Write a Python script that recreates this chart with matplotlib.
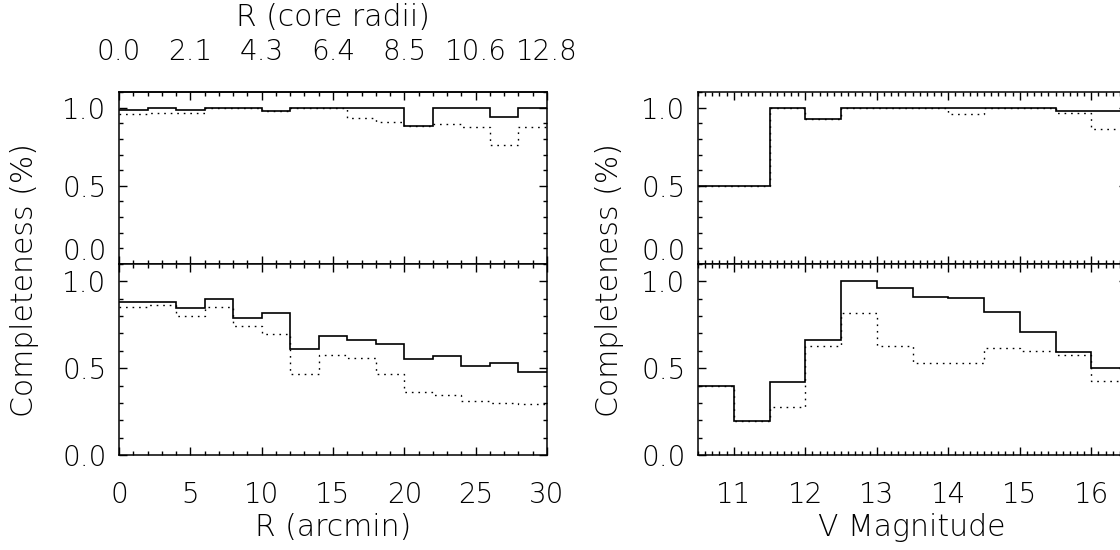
import matplotlib
matplotlib.use("Agg")
import matplotlib.pyplot as plt
from matplotlib.ticker import MultipleLocator
from matplotlib.transforms import ScaledTranslation

# ---- data -------------------------------------------------------------
# radial bins (arcmin)
r_edges = [0, 2, 4, 6, 8, 10, 12, 14, 16, 18, 20, 22, 24, 26, 28, 30]
# upper row: completeness vs radius
r_top_solid = [0.983, 1.0, 0.985, 1.0, 1.0, 0.977, 1.0, 1.0, 1.0, 1.0,
               0.884, 1.0, 1.0, 0.941, 1.0]
r_top_dotted = [0.958, 0.968, 0.968, 1.0, 1.0, 0.977, 1.0, 1.0, 0.936, 0.905,
                0.884, 0.898, 0.879, 0.761, 0.879]
# lower row: completeness vs radius
r_bot_solid = [0.884, 0.884, 0.846, 0.898, 0.788, 0.815, 0.611, 0.686, 0.665,
               0.642, 0.553, 0.568, 0.514, 0.532, 0.478]
r_bot_dotted = [0.855, 0.863, 0.798, 0.852, 0.742, 0.699, 0.464, 0.576, 0.557,
                0.466, 0.360, 0.347, 0.312, 0.299, 0.293]

# magnitude bins (V)
v_edges = [10.5, 11.0, 11.5, 12.0, 12.5, 13.0, 13.5, 14.0, 14.5, 15.0,
           15.5, 16.0, 16.5]
v_top_solid = [0.5, 0.5, 1.0, 0.93, 1.0, 1.0, 1.0, 1.0, 1.0, 0.995, 0.981, 0.981]
v_top_dotted = [0.5, 0.5, 1.0, 0.93, 1.0, 1.0, 1.0, 0.958, 1.0, 0.995, 0.968, 0.862]
v_bot_solid = [0.395, 0.195, 0.422, 0.661, 1.0, 0.963, 0.909, 0.902, 0.825,
               0.711, 0.591, 0.5]
v_bot_dotted = [0.395, 0.195, 0.279, 0.628, 0.815, 0.628, 0.530, 0.530, 0.614,
                0.599, 0.576, 0.429]

# axis ticks and labels
r_ticks = [0, 5, 10, 15, 20, 25, 30]
core_radii_labels = ["0.0", "2.1", "4.3", "6.4", "8.5", "10.6", "12.8"]
v_ticks = [11, 12, 13, 14, 15, 16]
y_ticks = [0.0, 0.5, 1.0]
y_tick_labels = ["0.0", "0.5", "1.0"]

# ---- style ------------------------------------------------------------
FAMILY = ["DejaVu Sans", "Roboto"]
WEIGHT = 200
FS = 20
FS_TITLE = 21.5
plt.rcParams["font.family"] = FAMILY
plt.rcParams["font.weight"] = WEIGHT

W, H = 1120, 550
fig = plt.figure(figsize=(W / 100, H / 100), dpi=100)
fig.patch.set_facecolor("white")


def px_axes(x0, y0, x1, y1):
    """Create axes from a pixel box measured from the top-left corner."""
    return fig.add_axes([x0 / W, 1 - y1 / H, (x1 - x0) / W, (y1 - y0) / H])


def light(labels):
    for lab in labels:
        lab.set_fontweight(WEIGHT)
        lab.set_fontfamily(FAMILY)


def style(ax, xmajor, xminor):
    ax.set_ylim(0, 1.1)
    ax.yaxis.set_minor_locator(MultipleLocator(0.1))
    ax.xaxis.set_major_locator(MultipleLocator(xmajor))
    ax.xaxis.set_minor_locator(MultipleLocator(xminor))
    ax.tick_params(which="both", direction="in", top=True, right=True,
                   color="black", width=1.0)
    ax.tick_params(which="major", length=5.5)
    ax.tick_params(which="minor", length=2.8)
    ax.tick_params(axis="y", pad=9, labelsize=FS)
    ax.tick_params(axis="x", pad=19, labelsize=FS)
    ax.set_yticks(y_ticks)
    ax.set_yticklabels(y_tick_labels)
    for s in ax.spines.values():
        s.set_linewidth(1.1)
        s.set_color("black")
    light(ax.get_yticklabels())


def draw(ax, edges, solid, dotted):
    ax.stairs(dotted, edges, baseline=None, color="black", lw=1.0,
              linestyle=(0, (1.2, 3.5)))
    ax.stairs(solid, edges, baseline=None, color="black", lw=1.2)


# pixel layout
LX0, LX1 = 119, 547
RX0, RX1 = 698, 1127
Y_TOP, Y_MID, Y_BOT = 92, 264, 455

ax_lt = px_axes(LX0, Y_TOP, LX1, Y_MID)
ax_lb = px_axes(LX0, Y_MID, LX1, Y_BOT)
ax_rt = px_axes(RX0, Y_TOP, RX1, Y_MID)
ax_rb = px_axes(RX0, Y_MID, RX1, Y_BOT)

for ax in (ax_lt, ax_lb):
    ax.set_xlim(0, 30)
    style(ax, 5, 1)
for ax in (ax_rt, ax_rb):
    ax.set_xlim(10.5, 16.5)
    style(ax, 1, 0.1)

draw(ax_lt, r_edges, r_top_solid, r_top_dotted)
draw(ax_lb, r_edges, r_bot_solid, r_bot_dotted)
draw(ax_rt, v_edges, v_top_solid, v_top_dotted)
draw(ax_rb, v_edges, v_bot_solid, v_bot_dotted)

ax_lt.tick_params(labelbottom=False)
ax_rt.tick_params(labelbottom=False)

ax_lb.set_xticks(r_ticks)
ax_lb.set_xticklabels([str(t) for t in r_ticks])
ax_rb.set_xticks(v_ticks)
ax_rb.set_xticklabels([str(t) for t in v_ticks])
light(ax_lb.get_xticklabels() + ax_rb.get_xticklabels())

# the zero label of each upper panel sits just above the shared edge
for ax in (ax_lt, ax_rt):
    zero = ax.get_yticklabels()[0]
    zero.set_transform(zero.get_transform()
                       + ScaledTranslation(0, 0.15, fig.dpi_scale_trans))

# upper axis of the radial plot in units of core radii
ax_lt.tick_params(axis="x", top=False, which="both")
sec = ax_lt.secondary_xaxis("top")
sec.set_xticks(r_ticks)
sec.set_xticklabels(core_radii_labels)
sec.xaxis.set_minor_locator(MultipleLocator(1))
sec.tick_params(which="both", direction="in", labelsize=FS, pad=19, width=1.0)
sec.tick_params(which="major", length=5.5)
sec.tick_params(which="minor", length=2.8)
sec.spines["top"].set_linewidth(1.1)
light(sec.get_xticklabels())


def ftext(x, y, s, rot=0):
    fig.text(x / W, 1 - y / H, s, ha="center", va="center", rotation=rot,
             fontsize=FS_TITLE, family=FAMILY, weight=WEIGHT)


ftext(333, 17, "R (core radii)")
ftext(333, 527, "R (arcmin)")
ftext(912, 527, "V Magnitude")
ftext(25, 280, "Completeness (%)", rot=90)
ftext(610, 280, "Completeness (%)", rot=90)

fig.savefig("out.png", dpi=100, facecolor="white")
